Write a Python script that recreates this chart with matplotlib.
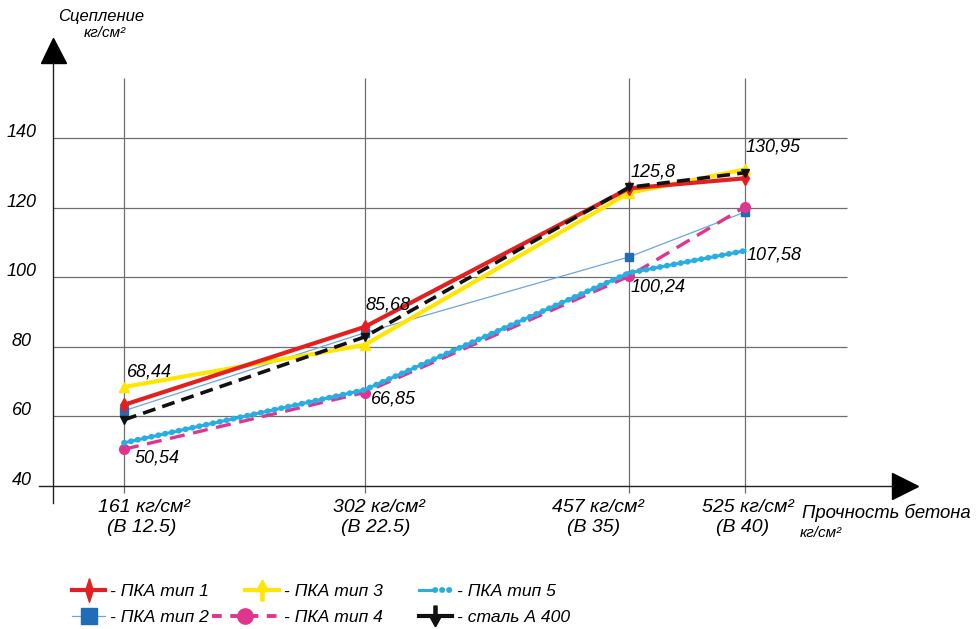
import matplotlib.pyplot as plt
from matplotlib.lines import Line2D
from matplotlib.legend_handler import HandlerLine2D, HandlerTuple

plt.rcParams['font.family'] = ['Liberation Sans', 'DejaVu Sans']
plt.rcParams['font.style'] = 'italic'

# прочность бетона, кг/см2
strength = [161, 302, 457, 525]
strength_text = ['161 кг/см²', '302 кг/см²', '457 кг/см²', '525 кг/см²']
class_text = ['(В 12.5)', '(В 22.5)', '(В 35)', '(В 40)']

# сцепление, кг/см2
pka1 = [63.3, 85.68, 125.5, 128.4]
pka2 = [61.6, 84.0, 105.8, 118.7]
pka3 = [68.44, 80.5, 124.2, 130.95]
pka4 = [50.54, 66.85, 100.24, 120.2]
pka5 = [52.4, 67.6, 101.2, 107.58]
steel = [59.0, 82.8, 125.8, 130.0]

y_ticks = [40, 60, 80, 100, 120, 140]
legend_labels = ['- ПКА тип 1', '- ПКА тип 2', '- ПКА тип 3',
                 '- ПКА тип 4', '- ПКА тип 5', '- сталь А 400']

PT = 0.72  # px -> pt at dpi 100

fig = plt.figure(figsize=(9.8, 6.29), dpi=100)
ax = fig.add_axes([39 / 980, 1 - 503 / 629, 881 / 980, 466 / 629])
ax.set_xlim(111.2, 627.6)
ax.set_ylim(35.1, 169)
ax.set_xticks([])
ax.set_yticks([])
for s in ['top', 'right']:
    ax.spines[s].set_visible(False)

y_axis_x = 119.4
ax.spines['left'].set_position(('data', y_axis_x))
ax.spines['left'].set_bounds(35.1, 161.6)
ax.spines['bottom'].set_position(('data', 40))
ax.spines['bottom'].set_bounds(111.2, 612)
for s in ['left', 'bottom']:
    ax.spines[s].set_color('#222222')
    ax.spines[s].set_linewidth(1.0)
ax.plot(y_axis_x, 165.3, marker='^', ms=18, color='black', clip_on=False)
ax.plot(619, 40, marker='>', ms=19, color='black', clip_on=False)

# сетка
ax.hlines(y_ticks[1:], y_axis_x, 584.8, color='#6e6e6e', lw=0.9, zorder=1)
ax.vlines(strength, 38, 157.2, color='#6e6e6e', lw=0.9, zorder=1)

for v in y_ticks:
    ax.annotate(str(v), xy=(y_axis_x, v), xytext=(-31 * PT, 1 * PT),
                textcoords='offset points', ha='center', va='baseline', fontsize=13)

dx1 = [20, 14, -31, 3]
dx2 = [18, 11, -35, -2]
for x, t1, t2, a, b in zip(strength, strength_text, class_text, dx1, dx2):
    ax.annotate(t1, xy=(x, 40), xytext=(a * PT, -22 * PT), textcoords='offset points',
                ha='center', va='center', fontsize=14)
    ax.annotate(t2, xy=(x, 40), xytext=(b * PT, -42 * PT), textcoords='offset points',
                ha='center', va='center', fontsize=14)

# линии
blue_line, = ax.plot(strength, pka2, color='#6aa6de', lw=0.9, marker='s', ms=6,
                     mfc='#1f6cb8', mec='#1f6cb8', zorder=3)
pink_line, = ax.plot(strength, pka4, color='#e0358f', lw=2.4, ls=(0, (4.5, 2.6)),
                     marker='o', ms=7, zorder=3)
cyan_base, = ax.plot(strength, pka5, color='#27aee4', lw=2.2, zorder=4)
cyan_beads, = ax.plot(strength, pka5, color='#27aee4', lw=4.2, ls=(0, (0.05, 1.15)),
                      dash_capstyle='round', zorder=4)
yellow_line, = ax.plot(strength, pka3, color='#ffe500', lw=3.0, marker='^', ms=7, zorder=5)
red_line, = ax.plot(strength, pka1, color='#e3201f', lw=3.0, marker='d', ms=7, zorder=6)
black_line, = ax.plot(strength, steel, color='#111111', lw=2.6, ls=(0, (3.6, 2.0)),
                      marker='v', ms=6, zorder=7)

# подписи значений: серия, индекс, текст, сдвиг (px вправо, px вверх)
value_labels = [
    (pka3, 0, '68,44', 3, 15),
    (pka4, 0, '50,54', 11, -9),
    (pka1, 1, '85,68', 1, 22),
    (pka4, 1, '66,85', 6, -6),
    (steel, 2, '125,8', 2, 15),
    (pka4, 2, '100,24', 2, -11),
    (pka3, 3, '130,95', 1, 22),
    (pka5, 3, '107,58', 2, -4),
]
for series, i, txt, ox, oy in value_labels:
    ax.annotate(txt, xy=(strength[i], series[i]), xytext=(ox * PT, oy * PT),
                textcoords='offset points', ha='left', va='center', fontsize=13, zorder=8)

fig.text(101 / 980, 1 - 17 / 629, 'Сцепление', ha='center', va='center', fontsize=12)
fig.text(105 / 980, 1 - 33 / 629, 'кг/см²', ha='center', va='center', fontsize=11)
fig.text(802 / 980, 1 - 513 / 629, 'Прочность бетона', ha='left', va='center', fontsize=13.3)
fig.text(800 / 980, 1 - 533 / 629, 'кг/см²', ha='left', va='center', fontsize=11)


class LongHandle(HandlerLine2D):
    def create_artists(self, legend, orig_handle, xdescent, ydescent, width, height,
                       fontsize, trans):
        extra = 24
        return super().create_artists(legend, orig_handle, xdescent + extra, ydescent,
                                      width + extra, height, fontsize, trans)


diamond = [(0, 1), (0.32, 0), (0, -1), (-0.32, 0), (0, 1)]
arrow_up = [(0, 1), (0.6, -0.1), (0.15, -0.1), (0.15, -1), (-0.15, -1),
            (-0.15, -0.1), (-0.6, -0.1), (0, 1)]
arrow_dn = [(x, -y) for x, y in arrow_up]
h1 = Line2D([], [], color='#e3201f', lw=3.0, marker=diamond, ms=17)
h2 = Line2D([], [], color='#6aa6de', lw=0.9, marker='s', ms=11,
            mfc='#1f6cb8', mec='#1f6cb8')
h3 = Line2D([], [], color='#ffe500', lw=3.0, marker=arrow_up, ms=15)
h4 = Line2D([], [], color='#e0358f', lw=2.8, ls=(0, (2.5, 2.2)), marker='o', ms=11)
h5a = Line2D([], [], color='#27aee4', lw=2.2)
h5b = Line2D([], [], color='#27aee4', lw=4.2, ls=(0, (0.05, 1.15)), dash_capstyle='round')
h6 = Line2D([], [], color='#111111', lw=3.0, marker=arrow_dn, ms=15)

fig.legend([h1, h2, h3, h4, (h5a, h5b), h6], legend_labels, ncol=3,
           loc='upper left', bbox_to_anchor=(72 / 980, 1 - 584 / 629),
           frameon=False, fontsize=12.6, handlelength=1.9, handletextpad=0.3,
           columnspacing=2.05, labelspacing=0.62, borderpad=0, borderaxespad=0,
           handler_map={h4: LongHandle(), tuple: HandlerTuple(ndivide=None)})

fig.savefig('out.png', dpi=100, facecolor='white')
